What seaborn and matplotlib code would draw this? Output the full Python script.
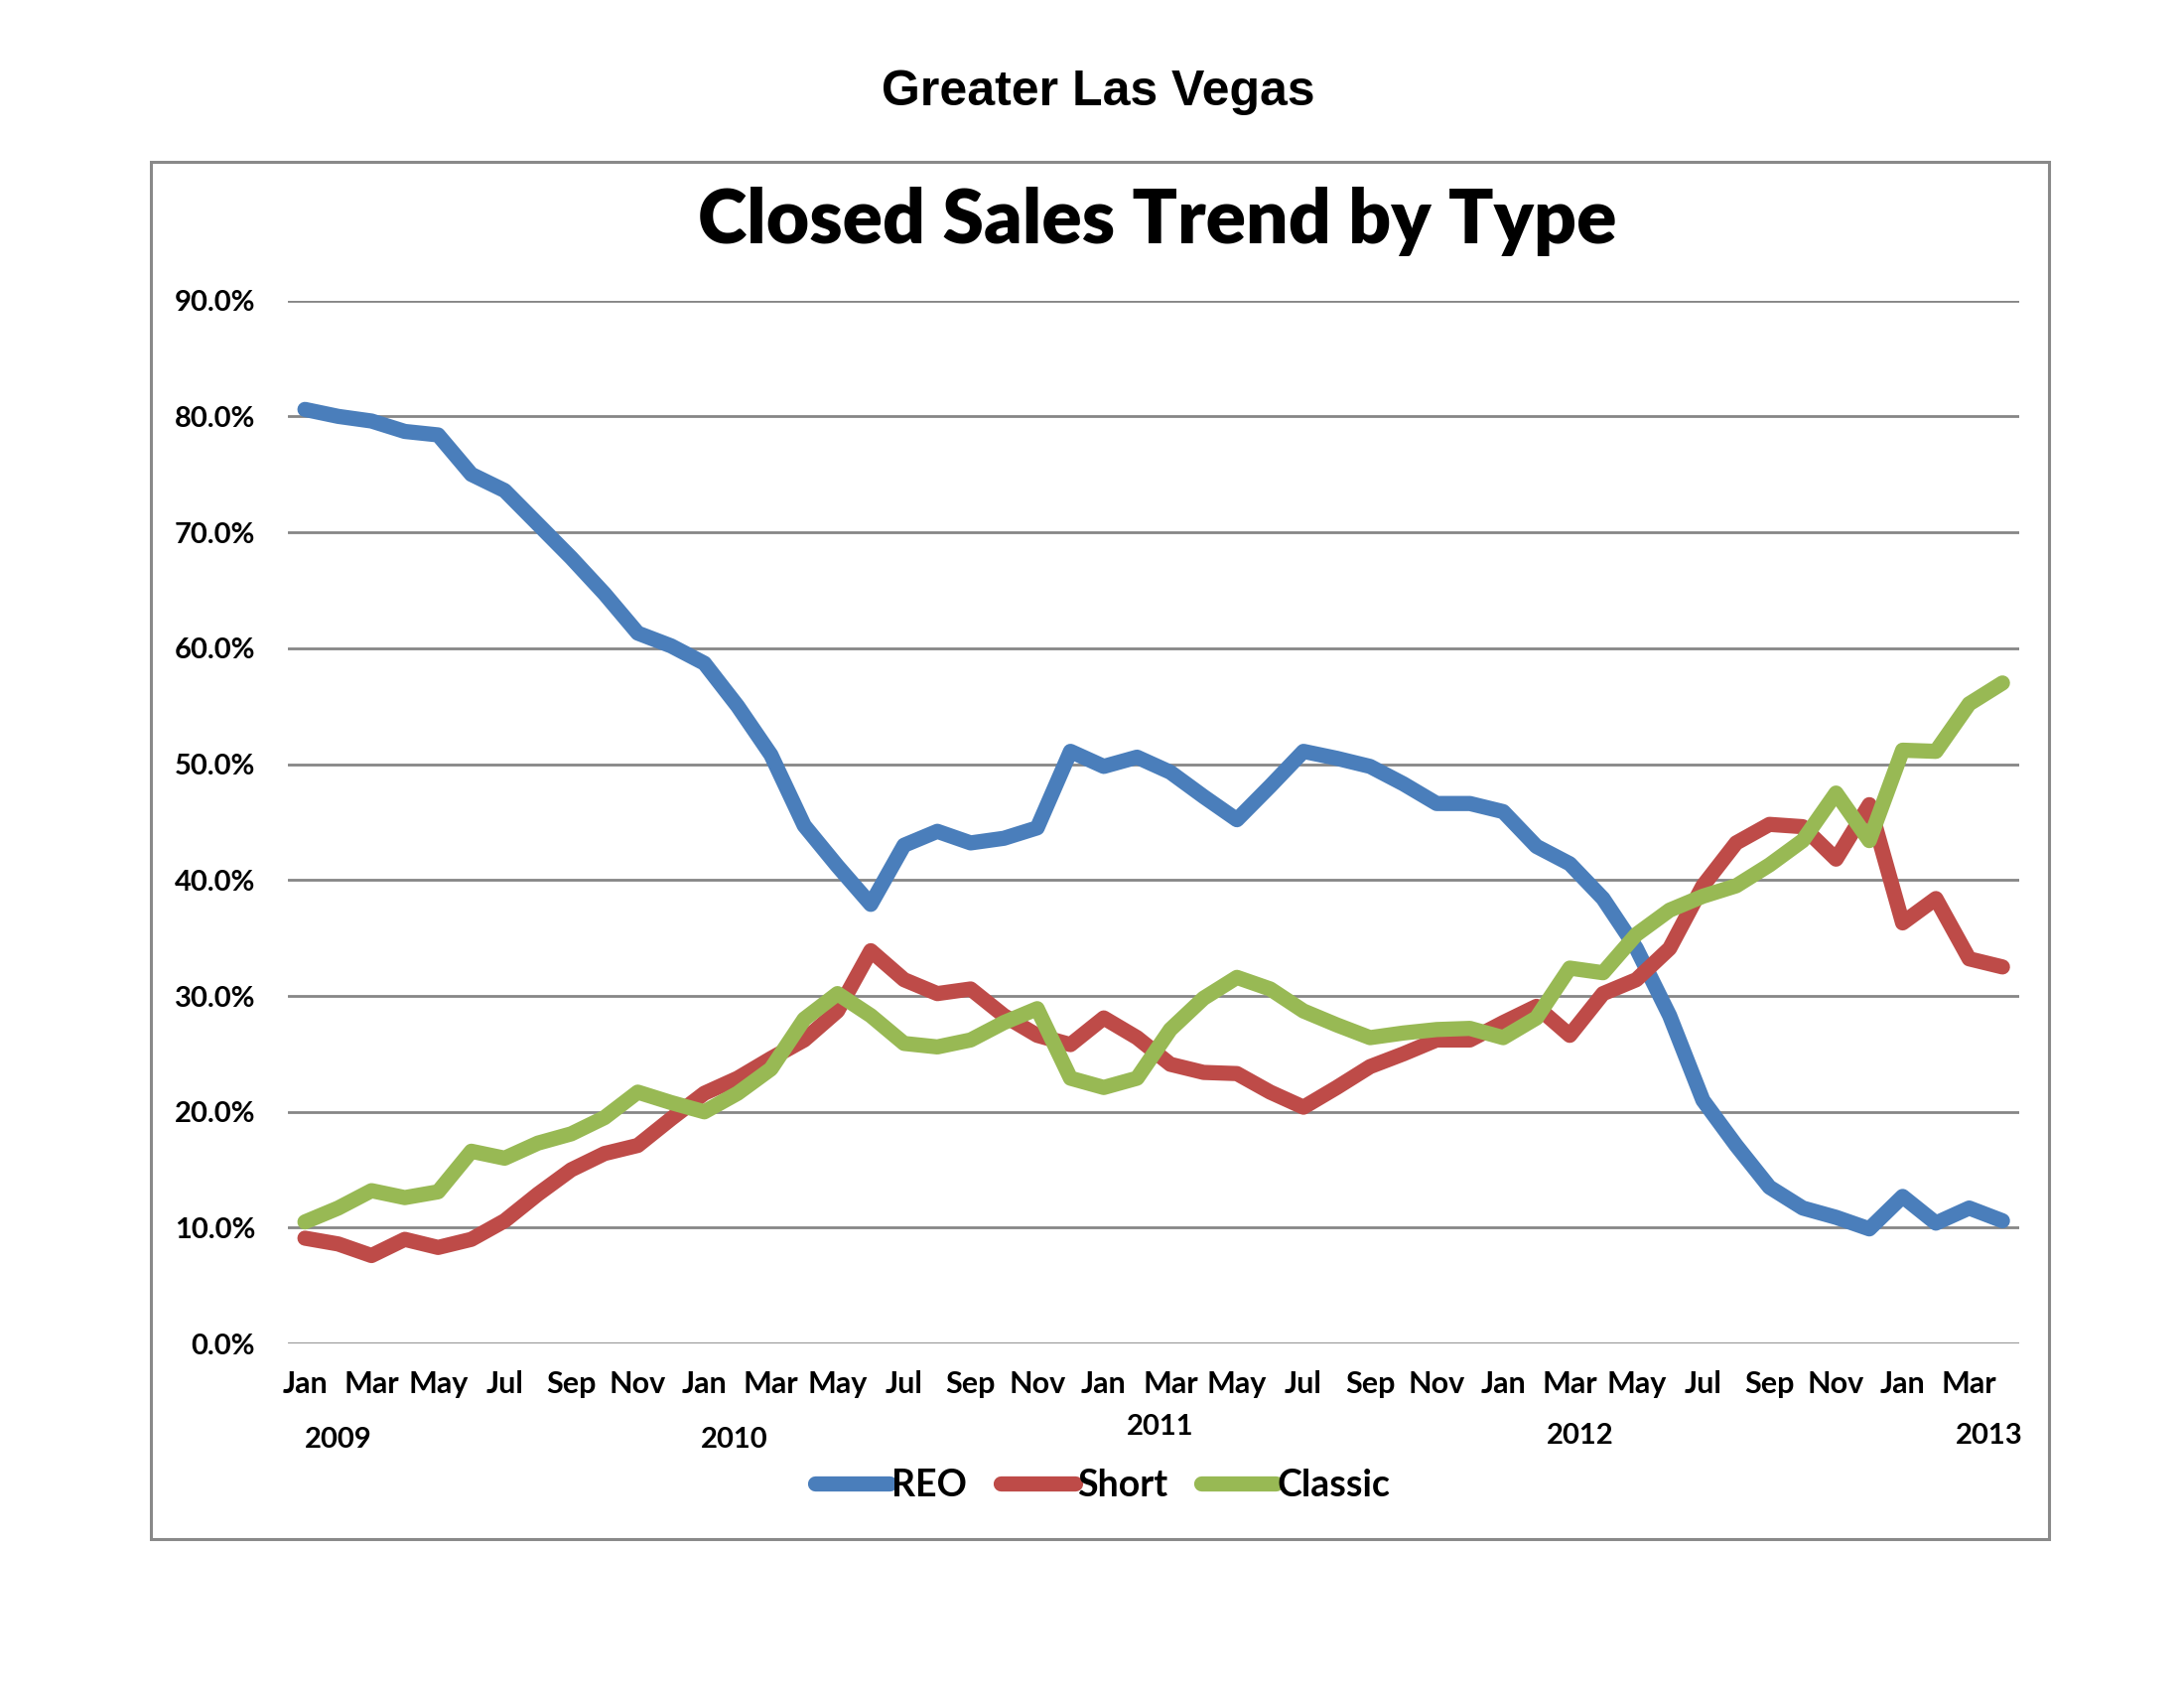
import numpy as np
import pandas as pd
import matplotlib
matplotlib.use("Agg")
import matplotlib.pyplot as plt
from matplotlib.patches import Rectangle
import seaborn as sns

sns.set_theme(style="white")
plt.rcParams['font.family'] = ['Lato', 'DejaVu Sans']
plt.rcParams['text.color'] = 'black'
plt.rcParams['xtick.color'] = 'black'
plt.rcParams['ytick.color'] = 'black'

# monthly shares (%), Jan 2009 .. Apr 2013
month_names = ["Jan", "Feb", "Mar", "Apr", "May", "Jun",
               "Jul", "Aug", "Sep", "Oct", "Nov", "Dec"]
years = ["2009", "2010", "2011", "2012", "2013"]

reo = [80.6, 80.0, 79.6, 78.7, 78.4, 75.0, 73.6, 70.7, 67.8, 64.7, 61.3, 60.2,
       58.7, 55.0, 50.8, 44.7, 41.2, 37.9, 43.0, 44.2, 43.2, 43.6, 44.5, 51.1,
       49.8, 50.6, 49.3, 47.2, 45.2, 48.1, 51.1, 50.5, 49.8, 48.3, 46.6, 46.6,
       45.9, 42.9, 41.4, 38.4, 34.1, 28.3, 21.0, 17.1, 13.5, 11.7, 10.9, 9.9,
       12.7, 10.4, 11.7, 10.6]
short = [9.1, 8.6, 7.6, 9.0, 8.3, 9.0, 10.6, 12.9, 15.0, 16.4, 17.1, 19.4,
         21.6, 22.9, 24.6, 26.2, 28.7, 33.9, 31.4, 30.2, 30.6, 28.3, 26.6, 25.8,
         28.1, 26.4, 24.1, 23.4, 23.3, 21.7, 20.4, 22.1, 23.9, 25.0, 26.2, 26.2,
         27.7, 29.1, 26.6, 30.2, 31.4, 34.1, 39.5, 43.2, 44.8, 44.6, 41.8, 46.5,
         36.3, 38.4, 33.2, 32.5]
classic = [10.5, 11.7, 13.2, 12.6, 13.1, 16.6, 16.0, 17.3, 18.1, 19.5, 21.7, 20.8,
           20.0, 21.6, 23.7, 28.0, 30.2, 28.3, 25.9, 25.6, 26.2, 27.7, 28.9, 22.9,
           22.1, 22.9, 27.1, 29.8, 31.6, 30.6, 28.7, 27.5, 26.4, 26.8, 27.1, 27.2,
           26.4, 28.1, 32.4, 32.0, 35.3, 37.4, 38.6, 39.5, 41.3, 43.4, 47.5, 43.4,
           51.2, 51.1, 55.2, 57.0]

n = len(reo)
months = [month_names[i % 12] for i in range(n)]

df = pd.DataFrame({
    "idx": list(range(n)) * 3,
    "pct": reo + short + classic,
    "type": ["REO"] * n + ["Short"] * n + ["Classic"] * n,
})
palette = {"REO": "#4A7EBB", "Short": "#BE4B48", "Classic": "#98B954"}

fig = plt.figure(figsize=(22, 17), dpi=100)
fig.patch.set_facecolor("white")

# outer chart frame
fig.patches.append(Rectangle((0.069, 0.088), 0.869, 0.816, transform=fig.transFigure,
                             fill=False, edgecolor="#898989", lw=2.2))

fig.text(0.503, 0.945, "Greater Las Vegas", ha="center", va="center",
         fontsize=36, fontweight="bold", family="Liberation Sans")
fig.text(0.53, 0.869, "Closed Sales Trend by Type", ha="center", va="center",
         fontsize=54, fontweight="heavy")

ax = fig.add_axes([0.132, 0.204, 0.7925, 0.618])
sns.lineplot(data=df, x="idx", y="pct", hue="type", palette=palette, lw=11,
             ax=ax, solid_capstyle="round", solid_joinstyle="round")

ax.set_xlim(-0.5, n - 0.5)
ax.set_ylim(0, 90)
ax.set_yticks(range(0, 91, 10))
ax.set_yticklabels([f"{v:.1f}%" for v in range(0, 91, 10)], fontsize=21, fontweight="bold")
ax.set_xticks(range(0, n, 2))
ax.set_xticklabels(months[::2], fontsize=22, fontweight="bold")
ax.tick_params(axis="both", length=0)
ax.tick_params(axis="x", pad=19)
ax.tick_params(axis="y", pad=24)
ax.yaxis.grid(True, color="#868686", lw=2)
ax.xaxis.grid(False)
for s in ax.spines.values():
    s.set_visible(False)
ax.set_xlabel("")
ax.set_ylabel("")

# year labels under month labels
year_x = [1.0, 12.9, 25.7, 38.3, 50.6]
year_y = [-0.092, -0.092, -0.080, -0.088, -0.088]
for yr, xx, yy in zip(years, year_x, year_y):
    ax.text(xx, yy, yr, transform=ax.get_xaxis_transform(), ha="center", va="center",
            fontsize=21, fontweight="bold")

handles, labels = ax.get_legend_handles_labels()
ax.get_legend().remove()
leg = fig.legend(handles, labels, loc="center", bbox_to_anchor=(0.505, 0.12), ncol=3,
                 frameon=False, handlelength=2.0, handletextpad=0.05, columnspacing=0.9,
                 prop={"size": 27, "weight": "bold"})
for h in leg.get_lines():
    h.set_linewidth(11)
    h.set_solid_capstyle("round")

fig.savefig("out.png", dpi=100, facecolor="white")
